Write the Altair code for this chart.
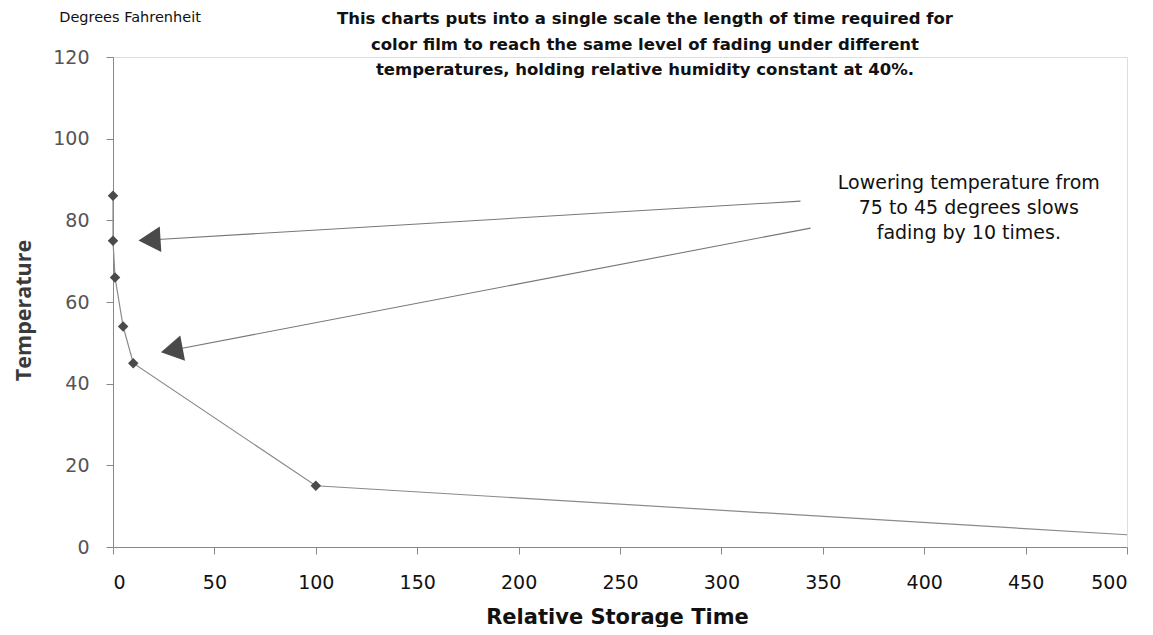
import math
import altair as alt
import pandas as pd

# ---- data ----
storage_time = [0, 0, 1, 5, 10, 100, 500]
temperature = [86, 75, 66, 54, 45, 15, 3]
has_marker = [True, True, True, True, True, True, False]

x_ticks = [0, 50, 100, 150, 200, 250, 300, 350, 400, 450, 500]
y_ticks = [0, 20, 40, 60, 80, 100, 120]

# arrows (data units): tail -> head
arrow_tail_x = [339, 344]
arrow_tail_y = [84.7, 78.1]
arrow_head_x = [18, 29]
arrow_head_y = [75.2, 48.2]

title_lines = [
    "This charts puts into a single scale the length of time required for",
    "color film to reach the same level of fading under different",
    "temperatures, holding relative humidity constant at 40%.",
]
note_lines = [
    "Lowering temperature from",
    "75 to 45 degrees slows",
    "fading by 10 times.",
]
unit_label = "Degrees Fahrenheit"

W, H = 1014, 490
FONT = "DejaVu Sans"

series = pd.DataFrame({"t": storage_time, "temp": temperature, "m": has_marker})

ppx, ppy = W / 500, H / 120
angles = []
for xt, yt, xh, yh in zip(arrow_tail_x, arrow_tail_y, arrow_head_x, arrow_head_y):
    a = -math.degrees(math.atan2((yt - yh) * ppy, (xt - xh) * ppx))
    angles.append(a % 360)
arrows = pd.DataFrame({"xt": arrow_tail_x, "yt": arrow_tail_y,
                       "xh": arrow_head_x, "yh": arrow_head_y, "ang": angles})

xs = alt.Scale(domain=[0, 500], nice=False, zero=False)
ys = alt.Scale(domain=[0, 120], nice=False)

line = alt.Chart(series).mark_line(color="#8a8a8a", strokeWidth=1.2).encode(
    x=alt.X("t:Q", scale=xs, axis=alt.Axis(
        values=x_ticks, title="Relative Storage Time", grid=False,
        labelFontSize=19, labelColor="#111", labelFont=FONT, labelPadding=19,
        tickSize=7, tickColor="#888", domainColor="#888",
        titleFont=FONT, titleFontSize=21, titleFontWeight="bold", titleColor="#111",
        titleX=W / 2 - 3, titleY=70, titleBaseline="middle", titleAlign="center")),
    y=alt.Y("temp:Q", scale=ys, axis=alt.Axis(
        values=y_ticks, title="Temperature", grid=False,
        labelFontSize=19, labelColor="#555", labelFont=FONT, labelPadding=17,
        tickSize=7, tickColor="#888", domainColor="#888",
        titleFont="Open Sans", titleFontSize=21.5, titleFontWeight="bold", titleColor="#3a3a3a",
        titleX=-89, titleY=253, titleBaseline="middle", titleAlign="center")),
    order=alt.Order("temp:Q", sort="descending"),
)

pts = alt.Chart(series).transform_filter("datum.m").mark_point(
    shape="diamond", filled=True, size=110, color="#4a4a4a", opacity=1
).encode(x=alt.X("t:Q", scale=xs), y=alt.Y("temp:Q", scale=ys))

arrow_lines = alt.Chart(arrows).mark_rule(color="#777", strokeWidth=1.1).encode(
    x="xt:Q", y="yt:Q", x2="xh:Q", y2="yh:Q")

arrow_heads = alt.Chart(arrows).mark_point(
    shape="triangle-left", filled=True, size=650, color="#4a4a4a", opacity=1
).encode(x=alt.X("xh:Q", scale=xs), y=alt.Y("yh:Q", scale=ys), angle=alt.Angle("ang:Q", scale=None))

texts = pd.DataFrame({
    "x": [262.3, 422.0, 8.4],
    "y": [129.2, 89.1, 129.6],
    "txt": ["\n".join(title_lines), "\n".join(note_lines), unit_label],
    "kind": ["title", "note", "unit"],
})

title_txt = alt.Chart(texts).transform_filter("datum.kind == 'title'").mark_text(
    font=FONT, fontSize=16.5, fontWeight="bold", lineBreak="\n", lineHeight=25.5,
    align="center", baseline="middle", color="#111"
).encode(x="x:Q", y="y:Q", text="txt:N")

note_txt = alt.Chart(texts).transform_filter("datum.kind == 'note'").mark_text(
    font=FONT, fontSize=19, lineBreak="\n", lineHeight=25,
    align="center", baseline="middle", color="#111"
).encode(x="x:Q", y="y:Q", text="txt:N")

unit_txt = alt.Chart(texts).transform_filter("datum.kind == 'unit'").mark_text(
    font=FONT, fontSize=14.5, align="center", baseline="middle", color="#111"
).encode(x="x:Q", y="y:Q", text="txt:N")

chart = alt.layer(line, pts, arrow_lines, arrow_heads, title_txt, note_txt, unit_txt).properties(
    width=W, height=H,
    autosize=alt.AutoSizeParams(type="none"),
    padding={"left": 105, "top": 49, "right": 18, "bottom": 80},
).configure_view(stroke=None).configure(background="white")

chart.save("out.html", embed_options={"renderer": "svg", "actions": False})
